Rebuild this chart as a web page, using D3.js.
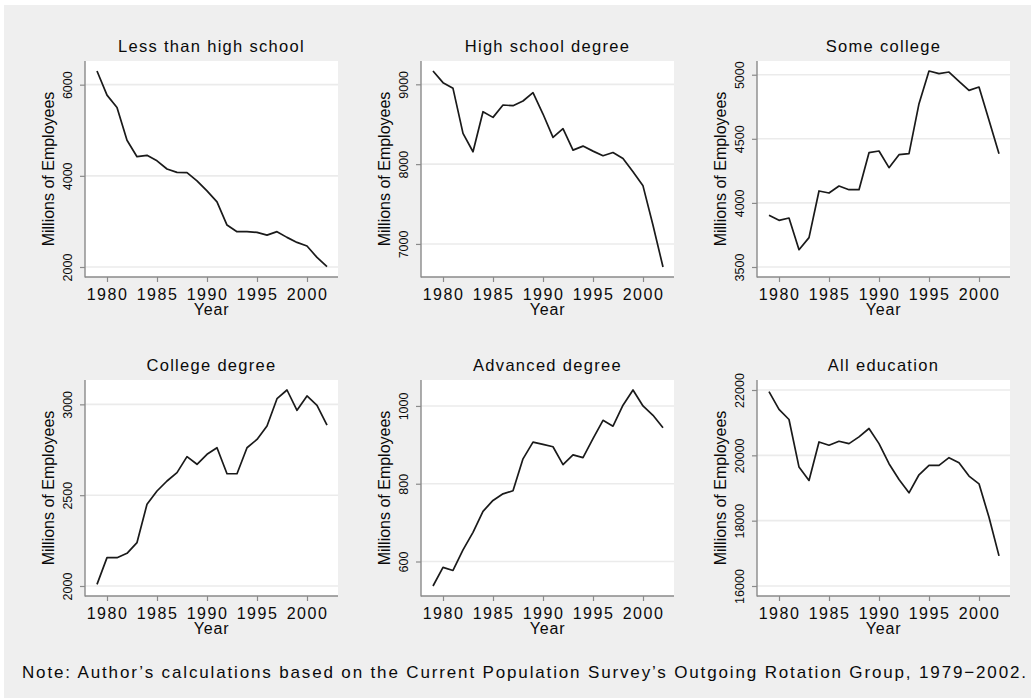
<!DOCTYPE html>
<html>
<head>
<meta charset="utf-8">
<script src="https://cdn.jsdelivr.net/npm/d3@7"></script>
<style>
  body { margin: 0; background: #ffffff; }
  svg text { font-family: "Liberation Sans", Arial, Helvetica, sans-serif; fill: #0a0a0a; }
</style>
</head>
<body>
<svg id="chart" width="1031" height="698"></svg>
<script>
// Employment by educational attainment, 1979-2002 (millions of employees)
const years = [1979, 1980, 1981, 1982, 1983, 1984, 1985, 1986, 1987, 1988, 1989, 1990,
               1991, 1992, 1993, 1994, 1995, 1996, 1997, 1998, 1999, 2000, 2001, 2002];

const lessThanHighSchool = [6300, 5770, 5500, 4780, 4420, 4450, 4330, 4150, 4075, 4070, 3890, 3670,
                            3430, 2920, 2775, 2775, 2760, 2700, 2775, 2650, 2540, 2460, 2210, 2010];
const highSchoolDegree   = [9167, 9021, 8950, 8385, 8155, 8657, 8586, 8741, 8732, 8791, 8895, 8628,
                            8335, 8444, 8176, 8226, 8163, 8105, 8146, 8071, 7904, 7728, 7234, 6711];
const someCollege        = [3903, 3864, 3882, 3635, 3729, 4093, 4077, 4132, 4103, 4103, 4392, 4405,
                            4275, 4376, 4384, 4774, 5029, 5008, 5021, 4948, 4878, 4904, 4644, 4384];
const collegeDegree      = [2009, 2156, 2156, 2180, 2239, 2450, 2523, 2578, 2624, 2712, 2670, 2725,
                            2761, 2618, 2618, 2761, 2807, 2881, 3031, 3079, 2967, 3046, 2995, 2886];
const advancedDegree     = [537, 585, 577, 630, 675, 729, 757, 774, 782, 864, 907, 901,
                            895, 849, 874, 867, 916, 963, 948, 1002, 1041, 1000, 976, 944];
const allEducation       = [21949, 21405, 21097, 19641, 19231, 20410, 20308, 20431, 20359, 20564, 20821, 20359,
                            19744, 19262, 18851, 19405, 19692, 19692, 19928, 19774, 19364, 19128, 18103, 16923];

const panelTitles = ["Less than high school", "High school degree", "Some college",
                     "College degree", "Advanced degree", "All education"];
const panelSeries = [lessThanHighSchool, highSchoolDegree, someCollege,
                     collegeDegree, advancedDegree, allEducation];
const panelYTicks = [
  [2000, 4000, 6000],
  [7000, 8000, 9000],
  [3500, 4000, 4500, 5000],
  [2000, 2500, 3000],
  [600, 800, 1000],
  [16000, 18000, 20000, 22000]
];
const xTicks = [1980, 1985, 1990, 1995, 2000];
const yAxisTitle = "Millions of Employees";
const xAxisTitle = "Year";
const noteText = "Note: Author\u2019s calculations based on the Current Population Survey\u2019s Outgoing Rotation Group, 1979\u22122002.";

// Layout of the 3 x 2 grid of plot regions
const colLeft = [85, 421, 757];
const rowTop = [61, 380];
const plotW = 253, plotH = 216;
const inset = 10;         // inner margin between plot region edge and data extent

const svg = d3.select("#chart");

// Page background: thin white edge, light grey graph region
svg.append("rect").attr("x", 0).attr("y", 0).attr("width", 1031).attr("height", 698).attr("fill", "#ffffff");
svg.append("rect").attr("x", 4).attr("y", 5).attr("width", 1027).attr("height", 693).attr("fill", "#efefef");

panelSeries.forEach((values, i) => {
  const left = colLeft[i % 3];
  const top = rowTop[Math.floor(i / 3)];
  const right = left + plotW, bottom = top + plotH;
  const ticks = panelYTicks[i];

  const x = d3.scaleLinear()
    .domain(d3.extent(years))
    .range([left + 12, right - 11]);
  const y = d3.scaleLinear()
    .domain(d3.extent(values.concat(ticks)))
    .range([bottom - inset, top + inset]);

  const g = svg.append("g");

  // plot region
  g.append("rect")
    .attr("x", left).attr("y", top)
    .attr("width", plotW).attr("height", plotH)
    .attr("fill", "#ffffff");

  // horizontal grid lines
  g.append("g").selectAll("line")
    .data(ticks)
    .join("line")
    .attr("x1", left).attr("x2", right)
    .attr("y1", d => y(d)).attr("y2", d => y(d))
    .attr("stroke", "#ebebeb")
    .attr("stroke-width", 1.6);

  // y axis
  const yAxis = g.append("g")
    .attr("transform", `translate(${left},0)`)
    .call(d3.axisLeft(y).tickValues(ticks).tickSize(5).tickSizeOuter(0).tickFormat(d3.format("d")));
  yAxis.select(".domain").remove();
  yAxis.selectAll(".tick line").attr("stroke", "#8a8a8a").attr("stroke-width", 1.2);
  yAxis.selectAll(".tick text")
    .attr("transform", "rotate(-90)")
    .attr("x", 0).attr("y", -13).attr("dy", 0)
    .attr("text-anchor", "middle")
    .style("font-size", "12.5px")
    .style("fill", "#0a0a0a");

  // x axis
  const xAxis = g.append("g")
    .attr("transform", `translate(0,${bottom})`)
    .call(d3.axisBottom(x).tickValues(xTicks).tickSize(5).tickSizeOuter(0).tickFormat(d3.format("d")));
  xAxis.select(".domain").remove();
  xAxis.selectAll(".tick line").attr("stroke", "#8a8a8a").attr("stroke-width", 1.2);
  xAxis.selectAll(".tick text")
    .attr("y", 23).attr("dy", 0)
    .style("font-size", "16px")
    .style("letter-spacing", "1.5px")
    .style("fill", "#0a0a0a");

  // axis lines spanning the full plot region
  g.append("line")
    .attr("x1", left).attr("x2", left).attr("y1", top).attr("y2", bottom + 0.5)
    .attr("stroke", "#8a8a8a").attr("stroke-width", 1.4);
  g.append("line")
    .attr("x1", left).attr("x2", right).attr("y1", bottom).attr("y2", bottom)
    .attr("stroke", "#8a8a8a").attr("stroke-width", 1.4);

  // series line
  g.append("path")
    .datum(values)
    .attr("fill", "none")
    .attr("stroke", "#1a1a1a")
    .attr("stroke-width", 1.7)
    .attr("stroke-linejoin", "round")
    .attr("d", d3.line().x((d, k) => x(years[k])).y(d => y(d)));

  // panel title
  g.append("text")
    .attr("x", (left + right) / 2).attr("y", top - 9)
    .attr("text-anchor", "middle")
    .style("font-size", "16.5px")
    .style("letter-spacing", "1.3px")
    .text(panelTitles[i]);

  // axis titles
  g.append("text")
    .attr("x", (left + right) / 2).attr("y", bottom + 38)
    .attr("text-anchor", "middle")
    .style("font-size", "16px")
    .style("letter-spacing", "0.8px")
    .text(xAxisTitle);
  g.append("text")
    .attr("transform", `translate(${left - 31},${(top + bottom) / 2}) rotate(-90)`)
    .attr("text-anchor", "middle")
    .style("font-size", "16px")
    .text(yAxisTitle);
});

// source note
svg.append("text")
  .attr("x", 22).attr("y", 678)
  .attr("textLength", 1004)
  .attr("lengthAdjust", "spacing")
  .style("font-size", "17px")
  .text(noteText);
</script>
</body>
</html>
